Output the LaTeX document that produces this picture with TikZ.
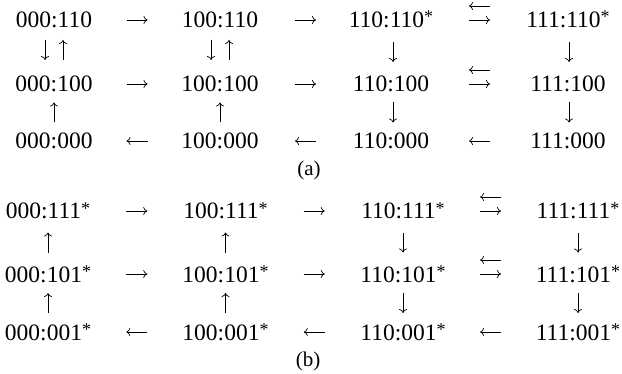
\documentclass[tikz,border=0pt]{standalone}
\usepackage{fontspec}
\setmainfont{Liberation Serif}
\usetikzlibrary{calc,arrows.meta}
\newcommand\astr{\raisebox{5pt}{\fontsize{18}{20}\selectfont *}}
\begin{document}
\begin{tikzpicture}[x=1pt,y=1pt,
  st/.style={font=\fontsize{23.5}{28}\selectfont, inner sep=0pt, text height=16pt, text depth=0pt, anchor=base},
  sublabel/.style={font=\fontsize{21}{24}\selectfont, inner sep=0pt},
  arr/.style={line width=0.7pt, -{To[length=4pt,width=8pt]}},
  sa/.style={to path={($(\tikztostart)!.5!(\tikztotarget)$) coordinate (samid)
      ($(samid)!#1!(\tikztostart)$) -- ($(samid)!#1!(\tikztotarget)$)}},
  sa/.default=10.5pt]
\useasboundingbox (0,0) rectangle (622,373);
% (a)
\node[st] (a11) at (54,345) {000:110};
\node[st] (a12) at (220,345) {100:110};
\node[st] (a13) at (391,345) {110:110\astr};
\node[st] (a14) at (568,345) {111:110\astr};
\node[st] (a21) at (54,281) {000:100};
\node[st] (a22) at (220,281) {100:100};
\node[st] (a23) at (391,281) {110:100};
\node[st] (a24) at (568,281) {111:100};
\node[st] (a31) at (54,224) {000:000};
\node[st] (a32) at (220,224) {100:000};
\node[st] (a33) at (391,224) {110:000};
\node[st] (a34) at (568,224) {111:000};
\node[sublabel] (la) at (309,203) {(a)};
% (b)
\node[st] (b11) at (48,154) {000:111\astr};
\node[st] (b12) at (225.5,154) {100:111\astr};
\node[st] (b13) at (403,154) {110:111\astr};
\node[st] (b14) at (578,154) {111:111\astr};
\node[st] (b21) at (48,91) {000:101\astr};
\node[st] (b22) at (225.5,91) {100:101\astr};
\node[st] (b23) at (403,91) {110:101\astr};
\node[st] (b24) at (578,91) {111:101\astr};
\node[st] (b31) at (48,33) {000:001\astr};
\node[st] (b32) at (225.5,33) {100:001\astr};
\node[st] (b33) at (403,33) {110:001\astr};
\node[st] (b34) at (578,33) {111:001\astr};
\node[sublabel] (lb) at (308,12) {(b)};
% connectors (a)
\draw[arr] (a11) to[sa] (a12);
\draw[arr] (a12) to[sa] (a13);
\draw[arr] (a13) to[sa] (a14);
\draw[arr,transform canvas={yshift=14pt}] (a14) to[sa] (a13);
\draw[arr] (a21) to[sa] (a22);
\draw[arr] (a22) to[sa] (a23);
\draw[arr] (a23) to[sa] (a24);
\draw[arr,transform canvas={yshift=14pt}] (a24) to[sa] (a23);
\draw[arr] (a32) to[sa] (a31);
\draw[arr] (a33) to[sa] (a32);
\draw[arr] (a34) to[sa] (a33);
\draw[arr,transform canvas={xshift=-9pt,yshift=2pt}] (a11) to[sa=10pt] (a21);
\draw[arr,transform canvas={xshift=9pt,yshift=2pt}] (a21) to[sa=10pt] (a11);
\draw[arr,transform canvas={xshift=-9pt,yshift=2pt}] (a12) to[sa=10pt] (a22);
\draw[arr,transform canvas={xshift=9pt,yshift=2pt}] (a22) to[sa=10pt] (a12);
\draw[arr,transform canvas={xshift=2pt}] (a13) to[sa=10pt] (a23);
\draw[arr,transform canvas={xshift=1pt}] (a14) to[sa=10pt] (a24);
\draw[arr] (a31) to[sa=10pt] (a21);
\draw[arr] (a32) to[sa=10pt] (a22);
\draw[arr,transform canvas={xshift=2pt}] (a23) to[sa=10pt] (a33);
\draw[arr,transform canvas={xshift=1pt}] (a24) to[sa=10pt] (a34);
% connectors (b)
\draw[arr] (b11) to[sa] (b12);
\draw[arr] (b12) to[sa] (b13);
\draw[arr] (b13) to[sa] (b14);
\draw[arr,transform canvas={yshift=14pt}] (b14) to[sa] (b13);
\draw[arr] (b21) to[sa] (b22);
\draw[arr] (b22) to[sa] (b23);
\draw[arr] (b23) to[sa] (b24);
\draw[arr,transform canvas={yshift=14pt}] (b24) to[sa] (b23);
\draw[arr] (b32) to[sa] (b31);
\draw[arr] (b33) to[sa] (b32);
\draw[arr] (b34) to[sa] (b33);
\draw[arr] (b21) to[sa=10pt] (b11);
\draw[arr] (b22) to[sa=10pt] (b12);
\draw[arr] (b13) to[sa=10pt] (b23);
\draw[arr] (b14) to[sa=10pt] (b24);
\draw[arr] (b31) to[sa=10pt] (b21);
\draw[arr] (b32) to[sa=10pt] (b22);
\draw[arr] (b23) to[sa=10pt] (b33);
\draw[arr] (b24) to[sa=10pt] (b34);
\end{tikzpicture}
\end{document}
